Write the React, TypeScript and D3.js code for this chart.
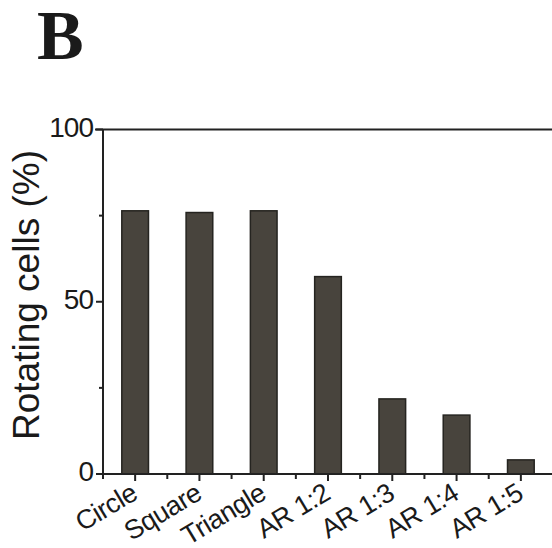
import React from "react";
import * as d3 from "d3";

const categories = ["Circle", "Square", "Triangle", "AR 1:2", "AR 1:3", "AR 1:4", "AR 1:5"];
const values = [76.4, 75.9, 76.4, 57.3, 21.8, 17.1, 4.1];
const yMajorTicks = [0, 50, 100];
const yMinorTicks = [25, 75];
const yLabel = "Rotating cells (%)";
const panelLabel = "B";

export default function App() {
  const W = 552;
  const H = 548;
  const axisX = 103;
  const x = d3
    .scaleBand<string>()
    .domain(categories)
    .range([axisX, axisX + 450])
    .paddingInner(0.585)
    .paddingOuter(0.2925);
  const y = d3.scaleLinear().domain([0, 100]).range([474, 129.5]);
  const step = x.step();
  const bw = x.bandwidth();
  const axisColor = "#222";
  const sans = "'Liberation Sans', Arial, sans-serif";
  const boundaries = d3.range(categories.length).map((k) => axisX + step * k);

  return (
    <svg
      width={W}
      height={H}
      style={{ position: "absolute", left: 0, top: 0, background: "#fff" }}
    >
      <rect x={0} y={0} width={W} height={H} fill="#fff" />
      <text
        x={37}
        y={59}
        fontFamily="'Liberation Serif', 'Times New Roman', serif"
        fontWeight="bold"
        fontSize={70}
        fill="#1a1a1a"
      >
        {panelLabel}
      </text>

      {/* bars */}
      {categories.map((c, i) => (
        <rect
          key={c}
          x={x(c)}
          y={y(values[i])}
          width={bw}
          height={y(0) - y(values[i])}
          fill="#48443d"
          stroke="#252420"
          strokeWidth={1.5}
        />
      ))}

      {/* top frame line */}
      <line x1={95} x2={W} y1={y(100)} y2={y(100)} stroke={axisColor} strokeWidth={2} />
      {/* y axis */}
      <line x1={axisX} x2={axisX} y1={y(100)} y2={y(0) + 5} stroke={axisColor} strokeWidth={2} />
      {yMajorTicks.map((t) => (
        <g key={"yt" + t}>
          <line x1={96} x2={axisX} y1={y(t)} y2={y(t)} stroke={axisColor} strokeWidth={2} />
          <text
            x={93}
            y={y(t) + 7}
            textAnchor="end"
            fontFamily={sans}
            fontSize={28}
            letterSpacing={-1}
            fill="#1a1a1a"
          >
            {t}
          </text>
        </g>
      ))}
      {yMinorTicks.map((t) => (
        <line key={"ym" + t} x1={99} x2={axisX} y1={y(t)} y2={y(t)} stroke={axisColor} strokeWidth={2} />
      ))}

      {/* x axis */}
      <line x1={96} x2={W} y1={y(0)} y2={y(0)} stroke={axisColor} strokeWidth={2} />
      {boundaries.map((bx, k) => (
        <line key={"xm" + k} x1={bx} x2={bx} y1={y(0)} y2={y(0) + 5} stroke={axisColor} strokeWidth={2} />
      ))}
      {categories.map((c) => {
        const cx = (x(c) as number) + bw / 2;
        return (
          <g key={"xt" + c}>
            <line x1={cx} x2={cx} y1={y(0)} y2={y(0) + 7} stroke={axisColor} strokeWidth={2} />
            <text
              transform={`translate(${cx + 4},${y(0) + 24}) rotate(-31)`}
              textAnchor="end"
              fontFamily={sans}
              fontSize={27}
              letterSpacing={-0.5}
              fill="#1a1a1a"
            >
              {c}
            </text>
          </g>
        );
      })}

      {/* y label */}
      <text
        transform={`translate(39,295) rotate(-90)`}
        textAnchor="middle"
        fontFamily={sans}
        fontSize={37}
        fill="#1a1a1a"
      >
        {yLabel}
      </text>
    </svg>
  );
}
